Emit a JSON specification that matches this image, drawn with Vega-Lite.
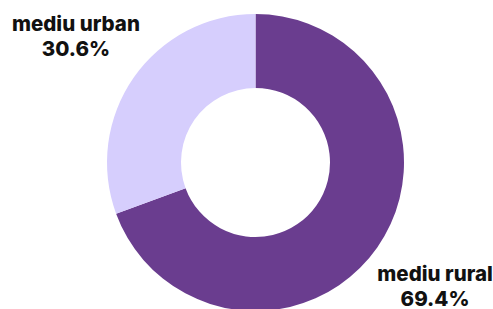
{
  "$schema": "https://vega.github.io/schema/vega-lite/v6.json",
  "width": 511,
  "height": 325,
  "padding": 0,
  "autosize": {"type": "none"},
  "background": "white",
  "view": {"stroke": null},
  "data": {"values": [
    {"category": "mediu rural", "value": 69.4, "pct": "69.4%", "ord": 1},
    {"category": "mediu urban", "value": 30.6, "pct": "30.6%", "ord": 2}
  ]},
  "encoding": {
    "theta": {"field": "value", "type": "quantitative", "stack": true},
    "order": {"field": "ord", "type": "quantitative"}
  },
  "layer": [
    {
      "mark": {"type": "arc", "outerRadius": 148.5, "innerRadius": 74.5},
      "encoding": {
        "color": {"field": "category", "type": "nominal", "legend": null,
          "scale": {"domain": ["mediu rural", "mediu urban"], "range": ["#6a3d8f", "#d6cefd"]}}
      }
    },
    {
      "mark": {"type": "text", "radius": 219, "dy": -12.5, "font": "Inter", "fontWeight": 800, "fontSize": 20.5, "color": "#111111", "align": "center", "baseline": "middle"},
      "encoding": {"text": {"field": "category"}}
    },
    {
      "mark": {"type": "text", "radius": 219, "dy": 12.5, "font": "Inter", "fontWeight": 800, "fontSize": 20.5, "color": "#111111", "align": "center", "baseline": "middle"},
      "encoding": {"text": {"field": "pct"}}
    }
  ]
}
